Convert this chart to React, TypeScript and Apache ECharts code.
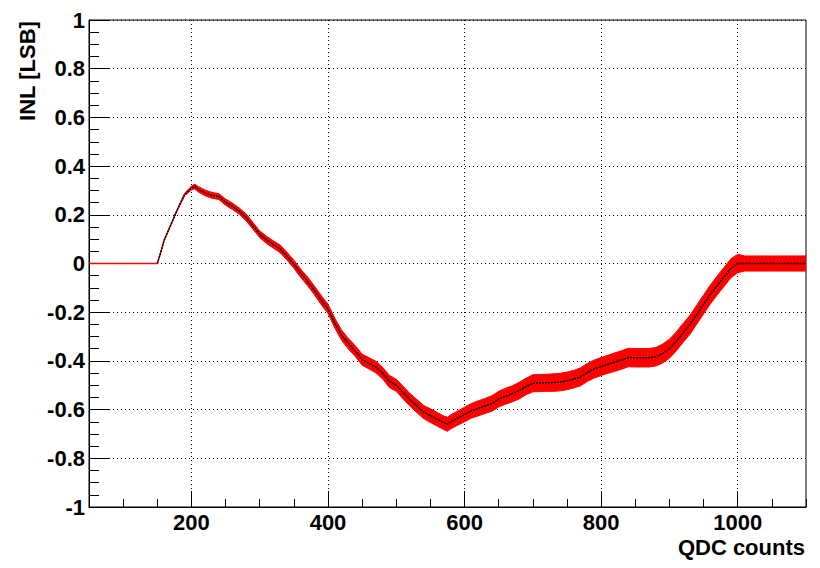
import { useEffect, useRef } from "react";
import * as echarts from "echarts";

// QDC count positions of the sampled INL points
const qdc = [
  150, 155, 160, 170, 180, 190, 200, 205, 210, 220,
  230, 240, 250, 260, 270, 280, 290, 300, 310, 320,
  330, 340, 350, 360, 370, 380, 390, 400, 410, 420,
  430, 440, 450, 460, 470, 480, 490, 500, 510, 520,
  530, 540, 550, 560, 570, 575, 580, 590, 600, 610,
  620, 630, 640, 650, 660, 670, 680, 690, 700, 710,
  720, 730, 740, 750, 760, 770, 780, 790, 800, 810,
  820, 830, 840, 850, 860, 870, 880, 890, 900, 910,
  920, 930, 940, 950, 960, 970, 980, 990, 1000, 1010,
  1050, 1100,
];

// INL values [LSB]
const inl = [
  0, 0.045, 0.095, 0.16, 0.225, 0.283, 0.31, 0.316, 0.305, 0.29,
  0.28, 0.275, 0.252, 0.235, 0.215, 0.19, 0.155, 0.12, 0.097, 0.078,
  0.06, 0.03, -0.003, -0.04, -0.073, -0.11, -0.15, -0.186, -0.245, -0.295,
  -0.33, -0.36, -0.395, -0.41, -0.425, -0.45, -0.485, -0.5, -0.53, -0.56,
  -0.585, -0.61, -0.625, -0.64, -0.655, -0.66, -0.65, -0.635, -0.62, -0.605,
  -0.595, -0.585, -0.575, -0.557, -0.545, -0.535, -0.522, -0.505, -0.492, -0.491,
  -0.49, -0.489, -0.487, -0.482, -0.475, -0.465, -0.447, -0.433, -0.423, -0.414,
  -0.405, -0.396, -0.386, -0.387, -0.387, -0.387, -0.383, -0.37, -0.35, -0.32,
  -0.285, -0.252, -0.21, -0.168, -0.127, -0.09, -0.055, -0.02, 0, 0,
  0, 0,
];

// INL errors (half-width) [LSB]
const inlErr = [
  0.002, 0.002, 0.002, 0.002, 0.003, 0.005, 0.008, 0.01, 0.011, 0.012,
  0.012, 0.012, 0.013, 0.013, 0.013, 0.014, 0.014, 0.014, 0.015, 0.015,
  0.016, 0.016, 0.017, 0.017, 0.018, 0.018, 0.019, 0.019, 0.02, 0.021,
  0.022, 0.022, 0.023, 0.023, 0.024, 0.024, 0.025, 0.025, 0.026, 0.026,
  0.027, 0.027, 0.028, 0.028, 0.028, 0.029, 0.029, 0.029, 0.03, 0.03,
  0.031, 0.031, 0.032, 0.032, 0.033, 0.033, 0.034, 0.034, 0.035, 0.035,
  0.035, 0.036, 0.036, 0.036, 0.036, 0.037, 0.037, 0.037, 0.037, 0.037,
  0.038, 0.038, 0.038, 0.038, 0.038, 0.038, 0.038, 0.039, 0.039, 0.039,
  0.039, 0.039, 0.039, 0.039, 0.039, 0.039, 0.039, 0.039, 0.038, 0.031,
  0.031, 0.031,
];

// Pedestal region (flat, red)
const pedestalQdc = [50, 150];
const pedestalInl = [0, 0];

const xMajorTicks = [200, 400, 600, 800, 1000];
const xTitle = "QDC counts";
const yTitle = "INL [LSB]";

export default function App() {
  const ref = useRef<HTMLDivElement>(null);
  useEffect(() => {
    const chart = echarts.init(ref.current!, null, { renderer: "svg" });
    const font = "Liberation Sans";
    const labelStyle = {
      color: "#000",
      fontFamily: font,
      fontWeight: "bold" as const,
      fontSize: 22,
    };
    const dotted = { color: "#000", width: 1, type: [1, 3] };
    const black = { color: "#000", width: 1 };

    chart.setOption({
      animation: false,
      backgroundColor: "#fff",
      grid: {
        left: 89,
        right: 14,
        top: 20,
        bottom: 61,
        show: true,
        borderColor: "#000",
        borderWidth: 1,
        backgroundColor: "transparent",
      },
      xAxis: [
        {
          type: "value",
          min: 50,
          max: 1100,
          interval: 50,
          position: "bottom",
          axisLine: { show: true, onZero: false, lineStyle: black },
          axisTick: { show: true, inside: true, length: 8, lineStyle: black },
          axisLabel: { show: false },
          splitLine: { show: false },
        },
        {
          type: "value",
          min: 50,
          max: 1100,
          position: "bottom",
          axisLine: { show: false, onZero: false },
          axisTick: {
            show: true,
            inside: true,
            length: 16,
            customValues: xMajorTicks,
            lineStyle: black,
          },
          axisLabel: {
            show: true,
            customValues: xMajorTicks,
            margin: 4,
            ...labelStyle,
            formatter: (v: number) => String(v),
          },
          splitLine: { show: true, lineStyle: dotted },
        },
      ],
      yAxis: [
        {
          type: "value",
          min: -1,
          max: 1,
          interval: 0.05,
          position: "left",
          axisLine: { show: true, onZero: false, lineStyle: black },
          axisTick: { show: true, inside: true, length: 10, lineStyle: black },
          axisLabel: { show: false },
          splitLine: { show: false },
        },
        {
          type: "value",
          min: -1,
          max: 1,
          interval: 0.2,
          position: "left",
          axisLine: { show: false, onZero: false },
          axisTick: { show: true, inside: true, length: 20, lineStyle: black },
          axisLabel: {
            show: true,
            margin: 4,
            ...labelStyle,
            formatter: (v: number) => String(Math.round(v * 10) / 10),
          },
          splitLine: { show: true, lineStyle: dotted },
        },
      ],
      graphic: [
        {
          type: "text",
          x: 805,
          y: 547,
          style: {
            text: xTitle,
            fill: "#000",
            font: `bold 22px "${font}"`,
            textAlign: "right",
            align: "right",
            textVerticalAlign: "middle",
            verticalAlign: "middle",
          },
        },
        {
          type: "text",
          x: 27,
          y: 71,
          rotation: Math.PI / 2,
          style: {
            text: yTitle,
            fill: "#000",
            font: `bold 22px "${font}"`,
            textAlign: "center",
            align: "center",
            textVerticalAlign: "middle",
            verticalAlign: "middle",
          },
        },
      ],
      series: [
        {
          type: "line",
          xAxisIndex: 0,
          yAxisIndex: 0,
          data: pedestalQdc.map((x, i) => [x, pedestalInl[i]]),
          symbol: "none",
          color: "#ff0000",
          lineStyle: { color: "#ff0000", width: 1.5 },
          z: 5,
          silent: true,
        },
        {
          type: "custom",
          xAxisIndex: 0,
          yAxisIndex: 0,
          data: [[qdc[0], inl[0]]],
          clip: true,
          silent: true,
          z: 3,
          renderItem: (_params: any, api: any) => {
            const upper = qdc.map((x, i) => api.coord([x, inl[i] + inlErr[i]]));
            const lower = qdc
              .map((x, i) => api.coord([x, inl[i] - inlErr[i]]))
              .reverse();
            return {
              type: "polygon",
              shape: { points: upper.concat(lower) },
              style: { fill: "#ff0000", stroke: "#ff0000", lineWidth: 1 },
            };
          },
        },
        {
          type: "line",
          xAxisIndex: 0,
          yAxisIndex: 0,
          data: qdc.map((x, i) => [x, inl[i]]),
          symbol: "none",
          lineStyle: { color: "#000", width: 1.5, type: [2, 1] },
          z: 4,
          silent: true,
        },
      ],
    });
    return () => chart.dispose();
  }, []);
  return (
    <div
      ref={ref}
      style={{ position: "fixed", left: 0, top: 0, width: 820, height: 568 }}
    />
  );
}
